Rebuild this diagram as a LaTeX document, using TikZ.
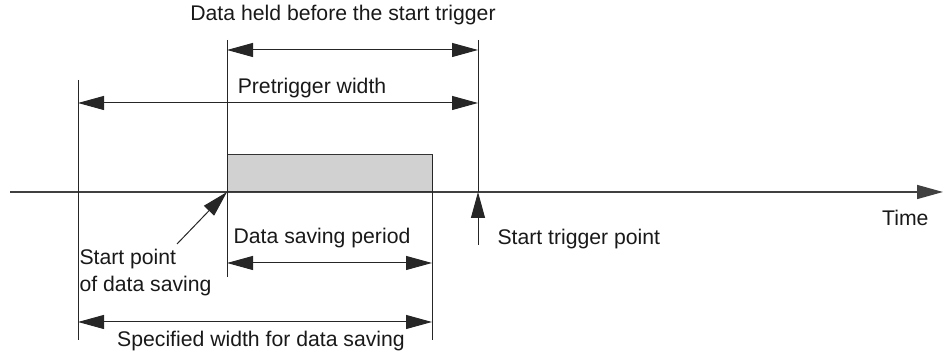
\documentclass[tikz,border=0pt]{standalone}
\usepackage{fontspec}
\setmainfont{Liberation Sans}
\usepackage{tikz}
\usetikzlibrary{arrows.meta}

\begin{document}
\begin{tikzpicture}[>={Triangle[length=13pt,width=7pt]}
	,x=0.5pt,y=-0.5pt
	,line width=0.5pt
	,font=\fontsize{10.6}{13.5}\selectfont]
  \tikzstyle{every node}=[inner sep=0pt,text=black!90]
  \tikzstyle{vline}=[draw=black!85]
  \tikzstyle{span}=[<->,draw=black!85]

  \useasboundingbox (0,0) rectangle (944,356);

  % time axis
  \coordinate (t0) at (10,192);
  \coordinate (t1) at (943,192);
  \draw[->,draw=black!75,line width=0.75pt] (t0) -- (t1);
  \node[anchor=east] (time) at (929,218) {Time};

  % saved block
  \coordinate (blk0) at (227,155);
  \coordinate (blk1) at (432,192);
  \path[fill=black!18,draw=black!80] (blk0) rectangle (blk1);

  % verticals
  \coordinate (a0) at (78,80);     \coordinate (a1) at (78,340);
  \coordinate (b0) at (227,40);    \coordinate (b1) at (227,277);
  \coordinate (c0) at (432,155);   \coordinate (c1) at (432,340);
  \coordinate (d0) at (478,40);    \coordinate (d1) at (478,192);
  \draw[vline] (a0) -- (a1);
  \draw[vline] (b0) -- (b1);
  \draw[vline] (c0) -- (c1);
  \draw[vline] (d0) -- (d1);

  % spans
  \coordinate (h0) at (227,50);    \coordinate (h1) at (478,50);
  \coordinate (p0) at (78,103);    \coordinate (p1) at (478,103);
  \coordinate (s0) at (227,263);   \coordinate (s1) at (432,263);
  \coordinate (w0) at (78,322);    \coordinate (w1) at (432,322);
  \draw[span] (h0) -- (h1);
  \draw[span] (p0) -- (p1);
  \draw[span] (s0) -- (s1);
  \draw[span] (w0) -- (w1);

  \node (held) at (343,15) {Data held before the start trigger};
  \node (pre) at (312,88) {Pretrigger width};
  \node (period) at (322,238) {Data saving period};
  \node (spec) at (261,341) {Specified width for data saving};

  % pointers
  \coordinate (startpt) at (227,192);
  \coordinate (startpt tail) at (177,244);
  \draw[->,draw=black!85] (startpt tail) -- (startpt);
  \node[anchor=west,align=left] (startlbl) at (79,273)
    {Start point\\of data saving};

  \coordinate (trig) at (478,192);
  \coordinate (trig tail) at (478,245);
  \draw[->,draw=black!85] (trig tail) -- (trig);
  \node[anchor=west] (triglbl) at (497,239) {Start trigger point};

\end{tikzpicture}
\end{document}
